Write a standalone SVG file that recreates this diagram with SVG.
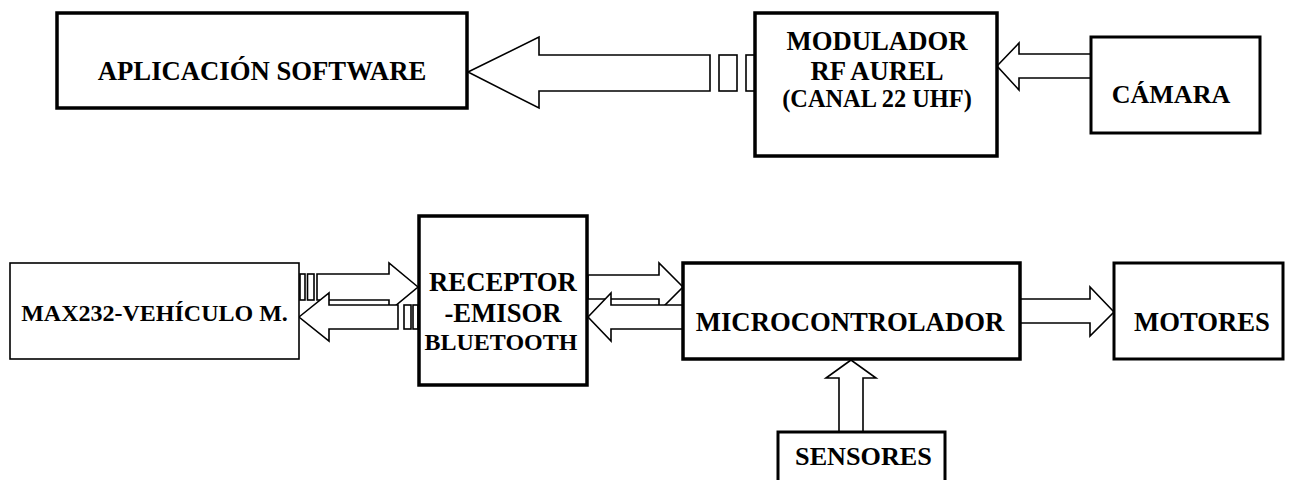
<svg xmlns="http://www.w3.org/2000/svg" width="1291" height="480" viewBox="0 0 1291 480">
<style>
.box{fill:#fff;stroke:#000;stroke-width:3.5}
.thin{fill:#fff;stroke:#000;stroke-width:1.6}
.arr{fill:#fff;stroke:#000;stroke-width:1.6;stroke-linejoin:miter}
.t{font-family:"Liberation Serif","Times New Roman",serif;font-weight:bold;fill:#000;text-anchor:middle;font-size:26.7px}
</style>
<rect width="1291" height="480" fill="#fff"/>
<g id="connectors">
<polygon class="arr" points="468,72 539,37 539,55 710,55 710,91 539,91 539,108"/>
<rect class="arr" x="719" y="55" width="18" height="36"/>
<rect class="arr" x="746" y="55" width="9" height="36"/>
<polygon class="arr" points="997,66 1019,43 1019,54 1091,54 1091,78 1019,78 1019,90"/>
<polygon class="arr" points="418,287 389,263 389,274 317,274 317,300 389,300 389,311"/>
<rect class="arr" x="300" y="274" width="5" height="26"/>
<rect class="arr" x="307.5" y="274" width="6.5" height="26"/>
<polygon class="arr" points="299,317 329,293 329,305 398,305 398,329 329,329 329,341"/>
<rect class="arr" x="404" y="305" width="7" height="24"/>
<rect class="arr" x="413" y="305" width="5" height="24"/>
<polygon class="arr" points="683,287 659,263 659,275 588,275 588,299 659,299 659,311"/>
<polygon class="arr" points="588,317 611,293 611,305 683,305 683,329 611,329 611,341"/>
<polygon class="arr" points="1114,312 1090,287 1090,299 1020,299 1020,323 1090,323 1090,336"/>
<polygon class="arr" points="851,360 826,378 839,378 839,432 863,432 863,378 876,378"/>
</g>
<g id="aplicacion">
<rect class="box" x="57" y="13" width="410" height="95"/>
<text class="t" x="262" y="80">APLICACIÓN SOFTWARE</text>
</g>
<g id="modulador">
<rect class="box" x="755" y="13" width="242" height="143"/>
<text class="t" x="877" y="50">MODULADOR</text>
<text class="t" x="877" y="80">RF AUREL</text>
<text class="t" x="877" y="107" style="font-size:24.4px">(CANAL 22 UHF)</text>
</g>
<g id="camara">
<rect class="box" x="1091" y="37" width="169" height="96" style="stroke-width:3"/>
<text class="t" x="1171" y="103" style="font-size:26px">CÁMARA</text>
</g>
<g id="max232">
<rect class="thin" x="10" y="263" width="289" height="96"/>
<text class="t" x="154.5" y="321" style="font-size:24px">MAX232-VEHÍCULO M.</text>
</g>
<g id="receptor">
<rect class="box" x="419" y="216" width="168" height="169"/>
<text class="t" x="503" y="291">RECEPTOR</text>
<text class="t" x="503" y="322">-EMISOR</text>
<text class="t" x="501" y="350" style="font-size:24px">BLUETOOTH</text>
</g>
<g id="microcontrolador">
<rect class="box" x="683" y="263" width="337" height="96"/>
<text class="t" x="850" y="331">MICROCONTROLADOR</text>
</g>
<g id="motores">
<rect class="box" x="1114" y="263" width="169" height="96" style="stroke-width:3"/>
<text class="t" x="1202" y="331">MOTORES</text>
</g>
<g id="sensores">
<rect class="box" x="778" y="432" width="167" height="60" style="stroke-width:3"/>
<text class="t" x="863.5" y="465" style="font-size:26.2px">SENSORES</text>
</g>
</svg>
